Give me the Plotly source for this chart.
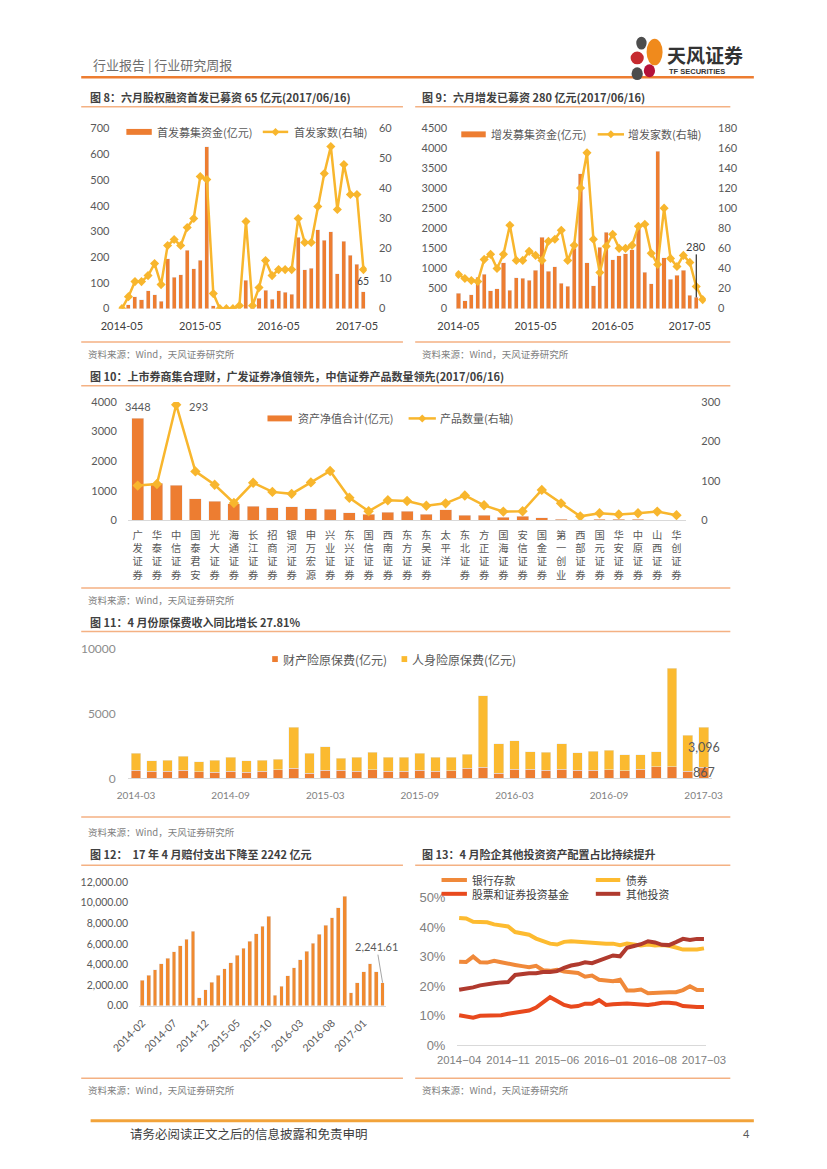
import plotly.graph_objects as go
import pandas as pd

W, H = 827, 1169
OFF = 8  # the page body adds an 8px margin around the figure; positions below are page pixels
FONT = "Lato, 'Noto Sans CJK SC', sans-serif"
CJK = "'Noto Sans CJK SC', sans-serif"
ARIAL = "'Liberation Sans', 'Noto Sans CJK SC', sans-serif"

ORANGE = "#ED7D31"
GOLD = "#F8B62D"
LIFE = "#FBBA30"
CLAIM = "#F08A30"
SEP = "#F4B183"
GRAYTXT = "#595959"
DARK = "#404040"
C_BANK = "#F0893A"
C_BOND = "#FDBB30"
C_STOCK = "#E8491D"
C_OTHER = "#B03A2E"


def months(a, b):
    return [p.strftime("%Y-%m") for p in pd.period_range(a, b, freq="M")]


# ---------------- Data ----------------
# Fig 8: IPO
ipo_months = months("2014-05", "2017-06")
ipo_amount = [0, 15, 46, 35, 69, 54, 29, 194, 121, 132, 227, 155, 188, 628, 11, 0, 0, 0, 0,
              110, 2, 41, 72, 37, 70, 64, 55, 277, 151, 156, 307, 266, 299, 135, 262, 208, 172, 65]
ipo_count = [0, 4, 9, 9, 11, 15, 8, 21, 23, 21, 27, 30, 44, 43, 5, 0, 0, 0, 1,
             29, 1, 7, 16, 11, 13, 13, 13, 30, 22, 22, 34, 45, 54, 33, 48, 38, 38, 13]
ipo_ticks = ["2014-05", "2015-05", "2016-05", "2017-05"]

# Fig 9: additional issuance
see_months = months("2014-05", "2017-07")
see_amount = [380, 200, 350, 780, 850, 440, 500, 1140, 460, 770, 750, 710, 950, 1770, 930, 1040,
              630, 560, 1500, 3350, 1140, 570, 1530, 1900, 1210, 1320, 1370, 1460, 2040, 910,
              620, 3910, 1260, 730, 830, 950, 330, 280]
see_count = [34, 30, 28, 27, 49, 54, 40, 54, 83, 48, 48, 57, 53, 48, 67, 69, 78, 48, 63, 120,
             155, 69, 36, 62, 74, 60, 60, 63, 82, 84, 55, 44, 100, 50, 42, 53, 46, 22, 9]
see_ticks = ["2014-05", "2015-05", "2016-05", "2017-05"]

# Fig 10: brokers' collective wealth management
brokers = ["广发证券", "华泰证券", "中信证券", "国泰君安", "光大证券", "海通证券", "长江证券",
           "招商证券", "银河证券", "申万宏源", "兴业证券", "东兴证券", "国信证券", "西南证券",
           "东方证券", "东吴证券", "太平洋", "东北证券", "方正证券", "国海证券", "安信证券",
           "国金证券", "第一创业", "西部证券", "国元证券", "华安证券", "中原证券", "山西证券",
           "华创证券"]
broker_nav = [3448, 1260, 1178, 733, 644, 555, 467, 422, 455, 389, 378, 255, 211, 278,
              311, 200, 355, 167, 178, 111, 133, 89, 44, 11, 40, 30, 30, 10, 10]
broker_products = [88, 92, 293, 124, 90, 44, 95, 72, 67, 96, 125, 57, 23, 51,
                   49, 37, 43, 63, 38, 22, 23, 77, 43, 10, 18, 15, 18, 22, 13]

# Fig 11: original premium income
ins_months = months("2014-03", "2017-03")
prop_premium = [636, 560, 560, 636, 534, 483, 560, 483, 560, 687, 789, 407, 636, 636, 560, 687,
                560, 560, 636, 560, 611, 789, 865, 407, 712, 712, 636, 712, 636, 636, 687, 611,
                712, 916, 916, 560, 867]
life_premium = [1298, 789, 840, 1069, 764, 917, 1094, 866, 840, 814, 3180, 1552, 1807, 942, 1068,
                1349, 1094, 1068, 1323, 1094, 1043, 1094, 5522, 2265, 2189, 1349, 1374, 1960,
                1349, 1476, 1501, 1221, 1120, 1145, 7608, 2799, 3096]
ins_ticks = ["2014-03", "2014-09", "2015-03", "2015-09", "2016-03", "2016-09", "2017-03"]
ins_yticks = [0, 5000, 10000]

# Fig 12: claims paid
claim_months = months("2014-02", "2017-04")
claims = [2458, 2936, 3511, 4086, 4628, 5235, 5809, 6447, 7245,
          798, 1532, 2298, 2936, 3575, 4181, 4915, 5586, 6256, 6958, 7724, 8682,
          1021, 1883, 2905, 3671, 4437, 5267, 6064, 6926, 7788, 8554, 9480, 10597,
          1277, 2234, 3288, 4086, 3288, 2241.61]
claim_ticks = ["2014-02", "2014-07", "2014-12", "2015-05", "2015-10", "2016-03", "2016-08", "2017-01"]

# Fig 13: allocation share (%)
alloc_months = months("2014-04", "2017-03")
bank_dep = [28.3, 28.2, 30.0, 28.1, 28.0, 28.6, 28.1, 27.8, 27.2, 26.8, 26.4, 26.9, 25.4, 25.2,
            25.6, 25.0, 24.6, 24.5, 23.2, 23.6, 22.2, 22.0, 21.7, 22.2, 18.6, 18.6, 18.9, 17.6,
            17.8, 18.0, 18.0, 18.0, 18.7, 20.0, 18.7, 18.7]
bonds = [43.1, 42.9, 41.8, 41.8, 41.6, 40.9, 40.6, 40.2, 38.3, 38.0, 37.4, 36.1, 35.2, 34.4,
         34.1, 35.0, 35.2, 35.0, 34.9, 34.9, 34.6, 34.4, 34.4, 33.9, 34.4, 34.2, 33.8, 34.1,
         33.8, 33.9, 33.7, 33.1, 32.4, 32.4, 32.4, 32.8]
stocks_funds = [10.2, 9.8, 9.4, 10.0, 10.0, 10.0, 10.2, 10.7, 11.1, 11.3, 11.8, 12.8, 14.4, 16.3,
                15.0, 13.7, 13.1, 13.3, 14.1, 14.1, 15.3, 13.7, 13.9, 14.2, 14.2, 14.0, 13.7, 13.7,
                14.0, 14.4, 14.4, 14.2, 13.3, 13.0, 13.0, 13.0]
other_inv = [18.8, 19.1, 19.6, 20.3, 20.8, 21.0, 21.3, 21.4, 23.8, 24.2, 24.4, 24.4, 24.8, 24.8,
             25.1, 26.2, 27.0, 27.4, 28.1, 27.8, 28.7, 29.8, 30.4, 30.1, 33.0, 33.6, 34.2, 35.2,
             34.8, 34.0, 33.9, 34.9, 36.0, 35.6, 36.0, 36.0]
alloc_ticks = ["2014-04", "2014-11", "2015-06", "2016-01", "2016-08", "2017-03"]

# ---------------- helpers (page pixel -> paper fraction) ----------------
def PX(x):
    return (x - OFF) / W


def PY(y):
    return 1 - (y - OFF) / H


def XD(a, b):
    return [PX(a), PX(b)]


def YD(top, bottom):
    return [PY(bottom), PY(top)]


annotations = []
shapes = []


def txt(x, y, s, size=11, color=DARK, family=CJK, xanchor="left", bold=False):
    annotations.append(dict(x=PX(x), y=PY(y), xref="paper", yref="paper", text=("<b>%s</b>" % s) if bold else s,
                            showarrow=False, xanchor=xanchor, yanchor="middle", align="left",
                            font=dict(size=size, color=color, family=family)))


def hline(x0, x1, y, color=SEP, width=1.5):
    shapes.append(dict(type="line", xref="paper", yref="paper", x0=PX(x0), x1=PX(x1), y0=PY(y), y1=PY(y),
                       line=dict(color=color, width=width)))


def rect(x0, x1, y0, y1, color):
    shapes.append(dict(type="rect", xref="paper", yref="paper", x0=PX(x0), x1=PX(x1), y0=PY(y1), y1=PY(y0),
                       fillcolor=color, line=dict(width=0)))


def ellipse(x0, x1, y0, y1, color):
    shapes.append(dict(type="circle", xref="paper", yref="paper", x0=PX(x0), x1=PX(x1), y0=PY(y1), y1=PY(y0),
                       fillcolor=color, line=dict(width=0)))


def diamond(x, y, r, color):
    shapes.append(dict(type="path", xref="paper", yref="paper", xsizemode="pixel", ysizemode="pixel",
                       xanchor=PX(x), yanchor=PY(y),
                       path="M0,%g L%g,0 L0,%g L%g,0 Z" % (r, r, -r, -r),
                       fillcolor=color, line=dict(width=0)))


def line_legend(x0, x1, y, color, width=2.5, marker=True):
    hline(x0, x1, y, color=color, width=width)
    if marker:
        diamond((x0 + x1) / 2, y, 4, color)


fig = go.Figure()

# ---------------- Fig 8 ----------------
fig.add_trace(go.Bar(x=ipo_months, y=ipo_amount, marker_color=ORANGE, width=0.62,
                     xaxis="x", yaxis="y", name="首发募集资金(亿元)"))
fig.add_trace(go.Scatter(x=ipo_months, y=ipo_count, mode="lines+markers", xaxis="x", yaxis="y2",
                         line=dict(color=GOLD, width=2.5), marker=dict(symbol="diamond", size=7, color=GOLD),
                         name="首发家数(右轴)"))

# ---------------- Fig 9 ----------------
fig.add_trace(go.Bar(x=see_months[:len(see_amount)], y=see_amount, marker_color=ORANGE, width=0.66,
                     xaxis="x2", yaxis="y3", name="增发募集资金(亿元)"))
fig.add_trace(go.Scatter(x=see_months, y=see_count, mode="lines+markers", xaxis="x2", yaxis="y4",
                         line=dict(color=GOLD, width=2.5), marker=dict(symbol="diamond", size=7, color=GOLD),
                         name="增发家数(右轴)"))

# ---------------- Fig 10 ----------------
fig.add_trace(go.Bar(x=brokers, y=broker_nav, marker_color=ORANGE, width=0.62,
                     xaxis="x3", yaxis="y5", name="资产净值合计(亿元)"))
fig.add_trace(go.Scatter(x=brokers, y=broker_products, mode="lines+markers", xaxis="x3", yaxis="y6",
                         line=dict(color=GOLD, width=2.5), marker=dict(symbol="diamond", size=8, color=GOLD),
                         name="产品数量(右轴)"))

# ---------------- Fig 11 ----------------
fig.add_trace(go.Bar(x=ins_months, y=prop_premium, marker_color=ORANGE, width=0.62,
                     xaxis="x4", yaxis="y7", name="财产险原保费(亿元)"))
fig.add_trace(go.Bar(x=ins_months, y=life_premium, marker_color=LIFE, width=0.62,
                     xaxis="x4", yaxis="y7", name="人身险原保费(亿元)"))

# ---------------- Fig 12 ----------------
fig.add_trace(go.Bar(x=claim_months, y=claims, marker_color=CLAIM, width=0.6,
                     xaxis="x5", yaxis="y8", name="赔付支出"))

# ---------------- Fig 13 ----------------
for name, vals, col in [("银行存款", bank_dep, C_BANK), ("债券", bonds, C_BOND),
                        ("股票和证券投资基金", stocks_funds, C_STOCK), ("其他投资", other_inv, C_OTHER)]:
    fig.add_trace(go.Scatter(x=alloc_months, y=vals, mode="lines", xaxis="x6", yaxis="y9",
                             line=dict(color=col, width=4), name=name, cliponaxis=False))


# ---------------- axes ----------------
def xax(domain, anchor, rng, tickvals, ticktext=None, size=11, color=DARK, family=FONT, gap=6,
        angle=0, showline=False):
    return dict(domain=domain, anchor=anchor, type="category", range=rng, tickvals=tickvals,
                ticktext=ticktext if ticktext is not None else tickvals, tickangle=angle,
                showgrid=False, zeroline=False, showline=showline, linecolor="#D9D9D9", linewidth=1,
                ticks="outside", ticklen=gap, tickcolor="rgba(0,0,0,0)",
                tickfont=dict(size=size, color=color, family=family), fixedrange=True)


def yax(rng, dtick, anchor, domain=None, side="left", overlaying=None, size=11, color=GRAYTXT,
        family=FONT, gap=5, fmt=None, suffix=None, tickvals=None):
    d = dict(anchor=anchor, range=rng, side=side, showgrid=False, zeroline=False,
             showline=False, ticks="outside", ticklen=gap, tickcolor="rgba(0,0,0,0)",
             tickfont=dict(size=size, color=color, family=family), fixedrange=True)
    if dtick is not None:
        d["dtick"] = dtick
    if domain is not None:
        d["domain"] = domain
    if overlaying is not None:
        d["overlaying"] = overlaying
    if fmt is not None:
        d["tickformat"] = fmt
    if suffix is not None:
        d["ticksuffix"] = suffix
    if tickvals is not None:
        d["tickvals"] = tickvals
        d["ticktext"] = [str(v) for v in tickvals]
    return d


layout_axes = dict(
    xaxis=xax(XD(94.8, 358.5), "y", [-0.5, len(ipo_months) - 0.5], ipo_ticks, gap=7),
    yaxis=yax([0, 700], 100, "x", domain=YD(122, 304.7), gap=6),
    yaxis2=yax([0, 60], 10, "x", side="right", overlaying="y", gap=9),

    xaxis2=xax(XD(452.6, 719), "y3", [-0.5, len(see_months) - 0.5], see_ticks, gap=7),
    yaxis3=yax([0, 4500], 500, "x2", domain=YD(121.3, 304.7), gap=5),
    yaxis4=yax([0, 180], 20, "x2", side="right", overlaying="y3", gap=9),

    xaxis3=xax(XD(104.8, 698), "y5", [-0.5, len(brokers) - 0.5], brokers,
               ["<br>".join(list(b)) for b in brokers], size=10.3, color=GRAYTXT, family=CJK, gap=5,
               showline=True),
    yaxis5=yax([0, 4000], 1000, "x3", domain=YD(399.3, 519.3), gap=8),
    yaxis6=yax([0, 300], 100, "x3", side="right", overlaying="y5", gap=12),

    xaxis4=xax(XD(104.9, 725), "y7", [-0.5, len(ins_months) - 0.5], ins_ticks, size=10,
               color="#7F7F7F", gap=8, showline=True),
    yaxis7=yax([0, 10000], None, "x4", domain=YD(650, 781), size=12, color="#8C8C8C", gap=9,
               tickvals=ins_yticks),

    xaxis5=xax(XD(116.6, 378.7), "y8", [-0.5, len(claim_months) - 0.5], claim_ticks, size=10.5,
               color=GRAYTXT, gap=6, angle=-45, showline=True),
    yaxis8=yax([0, 12000], 2000, "x5", domain=YD(886, 1011.5), size=10.5, gap=8, fmt=",.2f"),

    xaxis6=xax(XD(454.5, 719.2), "y9", [-0.3, len(alloc_months) - 0.7], alloc_ticks,
               [t.replace("-", "\u2212") for t in alloc_ticks], size=11.3, color="#808080",
               family=ARIAL, gap=4, showline=True),
    yaxis9=yax([0, 50], 10, "x6", domain=YD(901.7, 1051.7), size=13, color="#808080", family=ARIAL,
               gap=8, suffix="%"),
)

# ---------------- data labels ----------------
annotations.append(dict(x=ipo_months[-1], y=ipo_amount[-1], xref="x", yref="y", text=str(ipo_amount[-1]),
                        showarrow=False, yshift=11, font=dict(size=10.5, color=DARK, family=FONT)))
annotations.append(dict(x=see_months[len(see_amount) - 1], y=see_amount[-1], xref="x2", yref="y3",
                        text=str(see_amount[-1]), showarrow=True, arrowhead=0, arrowwidth=1,
                        arrowcolor="#000000", ax=0, ay=-51, font=dict(size=11, color=DARK, family=FONT)))
annotations.append(dict(x=brokers[0], y=broker_nav[0], xref="x3", yref="y5", text=str(broker_nav[0]),
                        showarrow=False, yshift=12, font=dict(size=11, color=GRAYTXT, family=FONT)))
annotations.append(dict(x=brokers[2], y=broker_products[2], xref="x3", yref="y6",
                        text=str(broker_products[2]), showarrow=False, xshift=22, yshift=-2,
                        font=dict(size=11, color=GRAYTXT, family=FONT)))
annotations.append(dict(x=ins_months[-1], y=prop_premium[-1] + life_premium[-1] / 2, xref="x4", yref="y7",
                        text="{:,}".format(life_premium[-1]), showarrow=False,
                        font=dict(size=12.5, color=GRAYTXT, family=FONT)))
annotations.append(dict(x=ins_months[-1], y=prop_premium[-1] / 2, xref="x4", yref="y7",
                        text="{:,}".format(prop_premium[-1]), showarrow=False,
                        font=dict(size=12.5, color=GRAYTXT, family=FONT)))
annotations.append(dict(x=claim_months[-1], y=claims[-1], xref="x5", yref="y8",
                        text="{:,.2f}".format(claims[-1]), showarrow=True, arrowhead=0, arrowwidth=1,
                        arrowcolor="#A6A6A6", ax=-6, ay=-36, font=dict(size=11, color=GRAYTXT, family=FONT)))

# ---------------- legends ----------------
rect(103, 130, 122.5, 128.5, ORANGE)
txt(133, 125.5, "首发募集资金(亿元)", size=11, color=GRAYTXT)
line_legend(248, 275, 125.5, GOLD)
txt(279, 125.5, "首发家数(右轴)", size=11, color=GRAYTXT)

rect(459, 485, 125, 131, ORANGE)
txt(488, 128, "增发募集资金(亿元)", size=11, color=GRAYTXT)
line_legend(604, 632, 128, GOLD)
txt(634, 128, "增发家数(右轴)", size=11, color=GRAYTXT)

rect(253, 279, 413, 419, ORANGE)
txt(283, 416, "资产净值合计(亿元)", size=11, color=GRAYTXT)
line_legend(403, 432, 416, GOLD)
txt(434, 416, "产品数量(右轴)", size=11, color=GRAYTXT)

rect(258, 264, 657, 663, ORANGE)
txt(267, 660, "财产险原保费(亿元)", size=12, color=GRAYTXT)
rect(395.5, 401.5, 657, 663, LIFE)
txt(405, 660, "人身险原保费(亿元)", size=12, color=GRAYTXT)

# Fig 13 legend: two rows, two columns (each column one text block)
ROW1, ROW2 = 884.0, 898.0
line_legend(438, 465, ROW1, C_BANK, width=4, marker=False)
line_legend(602, 628, ROW1, C_BOND, width=4, marker=False)
line_legend(438, 465, ROW2, C_STOCK, width=4, marker=False)
line_legend(602, 628, ROW2, C_OTHER, width=4, marker=False)
txt(468, (ROW1 + ROW2) / 2, "银行存款<br>股票和证券投资基金", size=10.8, color=DARK)
txt(632, (ROW1 + ROW2) / 2, "债券<br>其他投资", size=10.8, color=DARK)

# ---------------- page furniture ----------------
txt(65, 57, "行业报告 | 行业研究周报", size=13, color="#6E6E6E")
hline(55, 770, 70, color=ORANGE, width=2.5)
# logo
ellipse(645, 656, 29, 42, "#4D4D4D")
ellipse(656, 673, 31, 58, "#F08A1C")
ellipse(639, 653, 44, 57, "#C62A2F")
ellipse(653, 665, 57, 70, "#B5123A")
ellipse(640, 652, 60, 73, "#4D4D4D")
txt(676, 47, "天风证券", size=19, color="#333333", bold=True)
txt(678, 64, "TF SECURITIES", size=7.5, color="#333333", family=ARIAL, bold=True)

txt(62, 90, "图 8：六月股权融资首发已募资 65 亿元(2017/06/16)", bold=True)
txt(415, 90, "图 9：六月增发已募资 280 亿元(2017/06/16)", bold=True)
txt(62, 373, "图 10：上市券商集合理财，广发证券净值领先，中信证券产品数量领先(2017/06/16)", bold=True)
txt(62, 622, "图 11：4 月份原保费收入同比增长 27.81%", bold=True)
txt(62, 858, "图 12：\u00a0\u00a017 年 4 月赔付支出下降至 2242 亿元", bold=True)
txt(415, 858, "图 13：4 月险企其他投资资产配置占比持续提升", bold=True)

hline(55, 397, 100)
hline(410, 745, 100)
hline(55, 397, 338.5)
hline(410, 745, 338.5)
hline(55, 745, 383)
hline(55, 745, 588)
hline(55, 745, 632)
hline(55, 745, 820)
hline(55, 397, 869)
hline(410, 745, 869)
hline(55, 397, 1085)
hline(410, 745, 1085)

SRC = "资料来源：Wind，天风证券研究所"
for (sx, sy) in [(60, 351), (415, 351), (60, 600), (60, 835), (60, 1097), (415, 1097)]:
    txt(sx, sy, SRC, size=9.5, color="#7F7F7F")

hline(65, 770, 1128, color="#F2A33A", width=3)
txt(105, 1141, "请务必阅读正文之后的信息披露和免责申明", size=12.5, color=DARK)
txt(768, 1141, "4", size=11, color=GRAYTXT, family=FONT, xanchor="right")

fig.update_layout(
    width=W, height=H, margin=dict(l=0, r=0, t=0, b=0),
    paper_bgcolor="white", plot_bgcolor="white", showlegend=False, barmode="stack",
    font=dict(family=FONT, color=DARK), annotations=annotations, shapes=shapes,
    **layout_axes,
)

fig.write_html("out.html")
